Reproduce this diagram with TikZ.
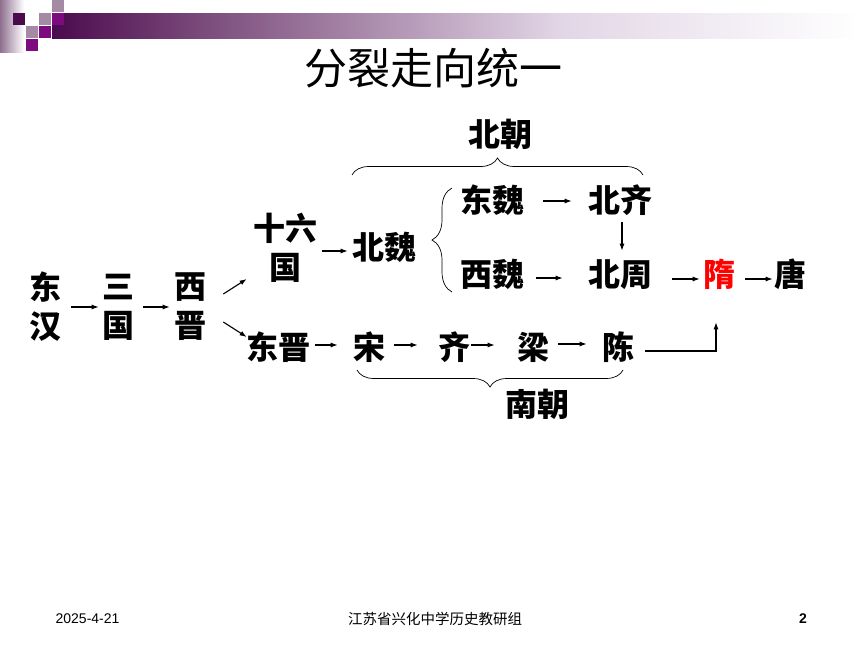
\documentclass[tikz,border=0pt]{standalone}
\usepackage{fontspec}
\setmainfont{Liberation Sans}
\newfontfamily\cjk{Noto Sans CJK SC}
\usetikzlibrary{positioning,arrows.meta,decorations.pathreplacing}

\definecolor{dkplum}{HTML}{4B0A4E}
\definecolor{magplum}{HTML}{7E0A80}
\definecolor{lilac}{HTML}{A58AA6}
\definecolor{barB}{HTML}{7A4A7A}
\definecolor{barC}{HTML}{E2D6E6}
\definecolor{fadeplum}{HTML}{8F6F8F}

\begin{document}
\begin{tikzpicture}[x=1pt, y=-1pt, node distance = 73pt and 73pt, on grid, semithick,
	word/.style ={inner sep=0pt, font=\cjk\bfseries\fontsize{32}{39}\selectfont, text height=26pt, text depth=4pt},
	col/.style ={inner sep=0pt, align=center, font=\cjk\bfseries\fontsize{32}{39}\selectfont},
	arr/.style ={-{Latex[length=7pt,width=5pt]}, line width=1.1pt},
	curly/.style ={decorate, decoration={brace, amplitude=#1}, line width=0.7pt}]
	\useasboundingbox (0,0) rectangle (860,645);

	% corner decoration
	\shade[left color=fadeplum, right color=white] (0,0) rectangle (24,52);
	\shade[left color=dkplum, right color=barB] (52,13) rectangle (200.5,38);
	\shade[left color=barB, right color=barC] (200,13) rectangle (560.5,38);
	\shade[left color=barC, right color=white] (560,13) rectangle (860,38);
	\foreach \x/\y/\c in {13/13/dkplum, 52/0/lilac, 39/13/lilac, 52/13/magplum,
		26/26/lilac, 39/26/magplum, 26/39/magplum}
		\fill[\c] (\x,\y) rectangle ++(12,12);

	\node[font=\cjk\fontsize{43}{48}\selectfont] (title) at (433,68) {分裂走向统一};

	\node[col] (dh) at (45,307) {东\\汉};
	\node[col] (sg) [right = 73pt of dh] {三\\国};
	\node[col] (xj) [right = 72pt of sg] {西\\晋};
	\node[col] (sl) at (285,248) {十六\\国};
	\node[word] (bw) [right = 99pt of sl] {北魏};
	\node[word] (dw) at (492,201) {东魏};
	\node[word] (bq) [right = 128pt of dw] {北齐};
	\node[word] (xw) [below = 74pt of dw] {西魏};
	\node[word] (bz) [right = 128pt of xw] {北周};
	\node[word, text=red] (sui) [right = 99pt of bz] {隋};
	\node[word] (tang) [right = 71pt of sui] {唐};
	\node[word] (dj) at (278,348) {东晋};
	\node[word] (song) [right = 91pt of dj] {宋};
	\node[word] (qi) [right = 85pt of song] {齐};
	\node[word] (liang) [right = 79pt of qi] {梁};
	\node[word] (chen) [right = 85pt of liang] {陈};
	\node[word] (bc) at (500,135) {北朝};
	\node[word] (nc) at (537,405) {南朝};

	\draw[arr] ([xshift=10pt]dh.east) -- ([xshift=-3pt]sg.west);
	\draw[arr] ([xshift=9pt]sg.east) -- ([xshift=-4pt]xj.west);
	\draw[arr] ([xshift=17pt,yshift=13pt]xj.east) -- ([xshift=-6pt,yshift=-31pt]sl.west);
	\draw[arr] ([xshift=17pt,yshift=-15pt]xj.east) -- ([xshift=1pt,yshift=11pt]dj.west);
	\draw[arr] ([xshift=5pt,yshift=-3pt]sl.east) -- ([xshift=-4pt,yshift=-3pt]bw.west);
	\draw[arr] ([xshift=19pt]dw.east) -- ([xshift=-16pt]bq.west);
	\draw[arr] ([xshift=2pt,yshift=-6pt]bq.south) -- ([xshift=2pt,yshift=9pt]bz.north);
	\draw[arr] ([xshift=12pt,yshift=-3pt]xw.east) -- ([xshift=-25pt,yshift=-3pt]bz.west);
	\draw[arr] ([xshift=20pt,yshift=-4pt]bz.east) -- ([xshift=-3pt,yshift=-4pt]sui.west);
	\draw[arr] ([xshift=10pt,yshift=-4pt]sui.east) -- ([xshift=-1pt,yshift=-4pt]tang.west);
	\draw[arr] ([xshift=5pt,yshift=3pt]dj.east) -- ([xshift=-15pt,yshift=3pt]song.west);
	\draw[arr] ([xshift=9pt,yshift=3pt]song.east) -- ([xshift=-20pt,yshift=3pt]qi.west);
	\draw[arr] ([xshift=1pt,yshift=3pt]qi.east) -- ([xshift=-22pt,yshift=3pt]liang.west);
	\draw[arr] ([xshift=9pt,yshift=4pt]liang.east) -- ([xshift=-15pt,yshift=4pt]chen.west);
	\draw[arr] ([xshift=11pt,yshift=-3pt]chen.east) -| ([xshift=-3pt,yshift=-32pt]sui.south);

	% braces
	\draw[curly=17pt] (352,175) -- (643,175);
	\draw[curly=17pt] (623,370) -- (357,370);
	\draw[curly=20pt] (452,292) -- (452,188);

	% footer
	\node[anchor=west, font=\fontsize{14}{16}\selectfont] (date) at (52,619) {2025-4-21};
	\node[font=\cjk\fontsize{14.5}{16}\selectfont] (org) at (435,619) {江苏省兴化中学历史教研组};
	\node[font=\bfseries\fontsize{14}{16}\selectfont] (page) at (803,619) {2};
\end{tikzpicture}
\end{document}
